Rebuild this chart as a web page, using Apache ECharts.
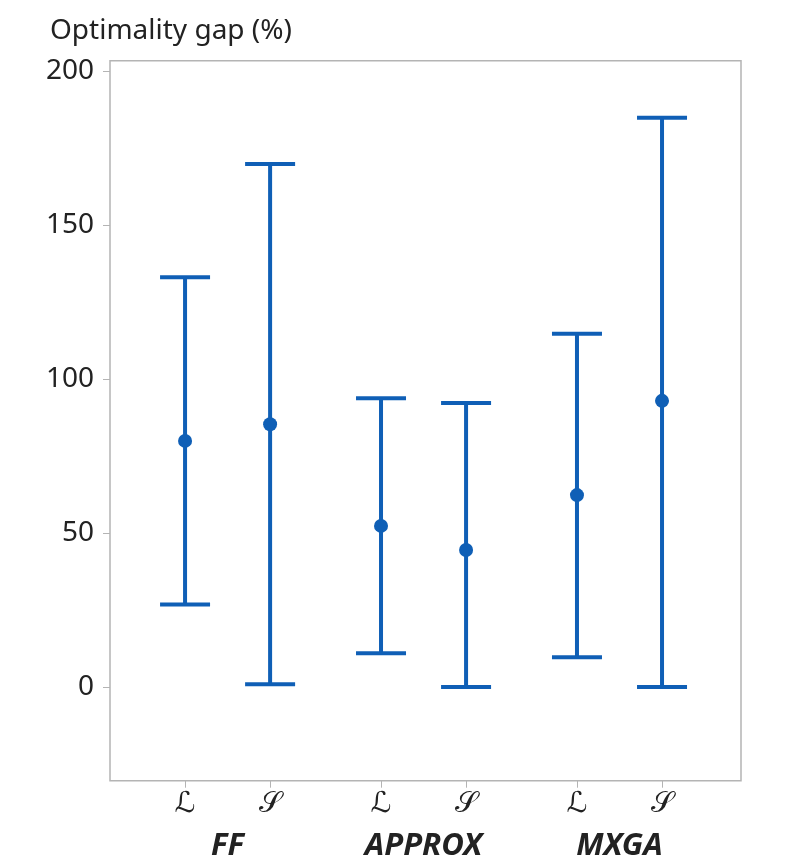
<!DOCTYPE html>
<html>
<head>
<meta charset="utf-8">
<script src="https://cdn.jsdelivr.net/npm/echarts@6/dist/echarts.min.js"></script>
<style>html,body{margin:0;padding:0;background:#fff}#c{width:796px;height:866px}</style>
</head>
<body>
<div id="c"></div>
<script>
// ---- data ----
var groups = ['FF', 'APPROX', 'MXGA'];
var subLabels = ['\u2112', '\uD835\uDCAE']; // ℒ, 𝒮
var lLow  = [26.9, 11.1, 9.8];
var lMid  = [80.0, 52.4, 62.4];
var lHigh = [133.1, 93.8, 114.8];
var sLow  = [1.0, 0.1, 0.1];
var sMid  = [85.4, 44.6, 93.0];
var sHigh = [169.9, 92.3, 184.9];
var yTicks = [0, 50, 100, 150, 200];

// ---- layout ----
var OFFSET = 0.217;
var COLOR = '#0f5fb6';
var TXT = '#222';
var FONT = '"Noto Sans", sans-serif';

function build(low, mid, high, off) {
  return groups.map(function (g, i) { return [i + off, low[i], mid[i], high[i]]; });
}
var lData = build(lLow, lMid, lHigh, -OFFSET);
var sData = build(sLow, sMid, sHigh, OFFSET);
var subPos = [];
groups.forEach(function (g, i) { subPos.push(i - OFFSET, i + OFFSET); });

function renderItem(params, api) {
  var x = api.value(0);
  var pLow = api.coord([x, api.value(1)]);
  var pMid = api.coord([x, api.value(2)]);
  var pHigh = api.coord([x, api.value(3)]);
  var hw = 25;
  var st = { stroke: COLOR, lineWidth: 4, fill: null };
  return {
    type: 'group',
    children: [
      { type: 'line', shape: { x1: pLow[0], y1: pLow[1], x2: pHigh[0], y2: pHigh[1] }, style: st },
      { type: 'line', shape: { x1: pLow[0] - hw, y1: pLow[1], x2: pLow[0] + hw, y2: pLow[1] }, style: st },
      { type: 'line', shape: { x1: pHigh[0] - hw, y1: pHigh[1], x2: pHigh[0] + hw, y2: pHigh[1] }, style: st },
      { type: 'circle', shape: { cx: pMid[0], cy: pMid[1], r: 7 }, style: { fill: COLOR } }
    ]
  };
}

var chart = echarts.init(document.getElementById('c'), null, { renderer: 'canvas' });
chart.setOption({
  backgroundColor: '#fff',
  animation: false,
  title: {
    text: 'Optimality gap (%)', left: 45, top: 12,
    textStyle: { fontFamily: FONT, fontSize: 28, fontWeight: 'normal', color: TXT }
  },
  grid: {
    left: 110, right: 55, top: 60.7, bottom: 85.3,
    show: true, borderColor: '#b4b4b4', borderWidth: 1.5, backgroundColor: 'transparent'
  },
  xAxis: [{
    type: 'value', min: -0.6, max: 2.62,
    axisLine: { show: false, onZero: false }, splitLine: { show: false },
    axisTick: { show: true, length: 7, customValues: subPos, lineStyle: { color: '#b4b4b4', width: 1 } },
    axisLabel: {
      customValues: subPos, margin: 9,
      formatter: function (v) {
        var idx = subPos.findIndex(function (p) { return Math.abs(p - v) < 1e-6; });
        return subLabels[idx % 2];
      },
      fontFamily: '"DejaVu Sans", sans-serif', fontSize: 29, color: TXT
    }
  }, {
    type: 'value', min: -0.6, max: 2.62, position: 'bottom',
    axisLine: { show: false, onZero: false }, splitLine: { show: false }, axisTick: { show: false },
    axisLabel: {
      customValues: [0, 1, 2], margin: 50,
      formatter: function (v) { return groups[Math.round(v)]; },
      fontFamily: FONT, fontStyle: 'italic', fontWeight: 'bold', fontSize: 31, color: TXT
    }
  }],
  yAxis: {
    type: 'value', min: -30.3, max: 203.4,
    axisLine: { show: false, onZero: false }, splitLine: { show: false },
    axisTick: { show: true, length: 7, customValues: yTicks, lineStyle: { color: '#b4b4b4', width: 1 } },
    axisLabel: { customValues: yTicks, margin: 16, fontFamily: FONT, fontSize: 28, color: TXT }
  },
  series: [
    { type: 'custom', name: 'L', renderItem: renderItem, data: lData, encode: { x: 0, y: [1, 2, 3] } },
    { type: 'custom', name: 'S', renderItem: renderItem, data: sData, encode: { x: 0, y: [1, 2, 3] } }
  ]
});
</script>
</body>
</html>
